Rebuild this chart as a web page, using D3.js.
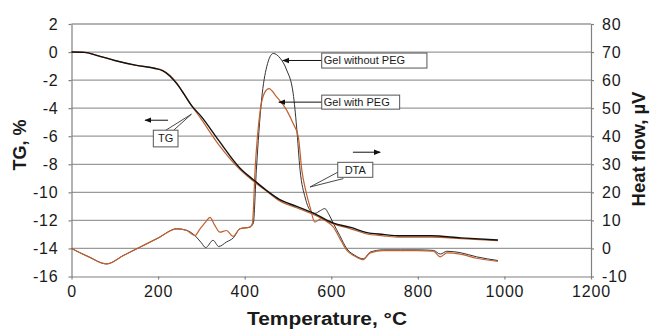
<!DOCTYPE html>
<html>
<head>
<meta charset="utf-8">
<script src="https://cdn.jsdelivr.net/npm/d3@7"></script>
<style>
  body { margin: 0; background: #fff; }
  svg text { font-family: "Liberation Sans", Arial, sans-serif; fill: #1a1a1a; }
</style>
</head>
<body>
<div id="chart"></div>
<script>
// TG curves (left axis, %)
const tgTemp = [0, 30, 60, 100, 150, 193, 210, 227, 243, 260, 277, 300, 340, 390, 420, 450, 480, 520, 560, 605, 645, 680, 720, 760, 830, 900, 985];
const tgNoPeg = [0, -0.02, -0.25, -0.6, -0.95, -1.17, -1.33, -1.7, -2.25, -3.0, -3.8, -4.6, -6.3, -8.3, -9.1, -9.85, -10.5, -11.0, -11.5, -12.2, -12.5, -12.85, -13.0, -13.1, -13.1, -13.25, -13.4];
const tgPeg = [0, -0.02, -0.25, -0.6, -0.95, -1.15, -1.3, -1.65, -2.2, -3.0, -3.8, -4.8, -6.6, -8.4, -9.2, -9.9, -10.6, -11.1, -11.6, -12.25, -12.6, -12.95, -13.1, -13.2, -13.2, -13.3, -13.45];

// DTA curves (right axis, µV)
const dtaTempNoPeg = [0, 40, 81, 120, 160, 200, 243, 265, 285, 300, 310, 327, 340, 358, 374, 389, 412, 420, 427, 439, 451, 466, 482, 497, 512, 520, 528, 540, 551, 562, 575, 585, 595, 605, 620, 636, 655, 674, 690, 720, 760, 800, 836, 852, 867, 898, 936, 985];
const dtaNoPeg = [0, -3, -5.5, -2.5, 0.6, 3.7, 7, 6.5, 4.6, 2, 0.3, 2.9, 0.7, 2.3, 3.8, 7, 7.6, 9, 27.9, 52.9, 64.8, 69.5, 67.8, 63.6, 55.3, 43.3, 27.9, 18, 13.6, 12.5, 13.5, 14.2, 12, 8.9, 4.5, -0.1, -2.5, -3.7, -1.3, -0.5, -0.5, -0.5, -0.7, -2.0, -1.0, -1.5, -3.0, -4.3];
const dtaTempPeg = [0, 40, 81, 120, 160, 200, 243, 265, 285, 297, 310, 320, 330, 343, 358, 373, 389, 412, 418, 424, 436, 447, 456, 474, 497, 512, 524, 532, 542, 551, 562, 577, 590, 605, 620, 636, 655, 674, 690, 720, 760, 800, 836, 852, 867, 898, 936, 985];
const dtaPeg = [0, -3, -5.5, -2.5, 0.6, 3.7, 7, 6.5, 4.6, 7, 9.5, 11.1, 8.5, 5.8, 6.4, 4.3, 7, 7.6, 9, 27.9, 49.3, 55.8, 57, 54, 49.3, 44.5, 39.8, 27.9, 20, 14.8, 9.4, 10.6, 9.5, 7.6, 3.5, -0.7, -2.8, -4.0, -1.6, -0.8, -0.8, -0.8, -1.0, -3.0, -1.6, -2.0, -3.5, -4.6];

// ticks
const xTicks = [0, 200, 400, 600, 800, 1000, 1200];
const yLeftTicks = [2, 0, -2, -4, -6, -8, -10, -12, -14, -16];
const yRightTicks = [80, 70, 60, 50, 40, 30, 20, 10, 0, -10];

const width = 650, height = 332;
const margin = {top: 24, right: 59, bottom: 55.5, left: 71.5};
const innerW = width - margin.left - margin.right;
const innerH = height - margin.top - margin.bottom;

const svg = d3.select('#chart').append('svg')
    .attr('width', width)
    .attr('height', height);
const g = svg.append('g')
    .attr('transform', 'translate(' + margin.left + ',' + margin.top + ')');

const xScale = d3.scaleLinear().domain([0, 1200]).range([0, innerW]);
const yLeft = d3.scaleLinear().domain([-16, 2]).range([innerH, 0]);
const yRight = d3.scaleLinear().domain([-10, 80]).range([innerH, 0]);

// gridlines
g.append('g').selectAll('line')
  .data(yLeftTicks.filter(d => d > -16))
  .enter().append('line')
    .attr('x1', 0).attr('x2', innerW)
    .attr('y1', d => yLeft(d)).attr('y2', d => yLeft(d))
    .style('stroke', '#9a9a9a')
    .style('stroke-width', 1.3);

const fmt = d => String(d);

// axes
const xAxis = g.append('g')
  .attr('transform', 'translate(0,' + innerH + ')')
  .call(d3.axisBottom(xScale).tickValues(xTicks).tickFormat(fmt).tickSize(3).tickPadding(6).tickSizeOuter(0));
const yAxisL = g.append('g')
  .call(d3.axisLeft(yLeft).tickValues(yLeftTicks).tickFormat(fmt).tickSize(3).tickPadding(10).tickSizeOuter(0));
const yAxisR = g.append('g')
  .attr('transform', 'translate(' + innerW + ',0)')
  .call(d3.axisRight(yRight).tickValues(yRightTicks).tickFormat(fmt).tickSize(3).tickPadding(8).tickSizeOuter(0));

[xAxis, yAxisL, yAxisR].forEach(a => {
  a.selectAll('path, line').style('stroke', '#808080').style('stroke-width', 1.2);
  a.selectAll('text').style('font-size', '16px').style('letter-spacing', '0.8px').style('fill', '#1a1a1a');
});

// curves
const tgLine = (temps, vals) => d3.line()
  .x((d, i) => xScale(temps[i]))
  .y(d => yLeft(d))
  .curve(d3.curveMonotoneX)(vals);
const dtaLine = (temps, vals) => d3.line()
  .x((d, i) => xScale(temps[i]))
  .y(d => yRight(d))
  .curve(d3.curveMonotoneX)(vals);

g.append('path').attr('d', dtaLine(dtaTempNoPeg, dtaNoPeg))
  .style('fill', 'none').style('stroke', '#333').style('stroke-width', 1);
g.append('path').attr('d', dtaLine(dtaTempPeg, dtaPeg))
  .style('fill', 'none').style('stroke', '#c2602e').style('stroke-width', 1.2);
g.append('path').attr('d', tgLine(tgTemp, tgPeg))
  .style('fill', 'none').style('stroke', '#c2602e').style('stroke-width', 1.2);
g.append('path').attr('d', tgLine(tgTemp, tgNoPeg))
  .style('fill', 'none').style('stroke', '#111').style('stroke-width', 1.4);

// annotations (temperature, TG units)
svg.append('defs').append('marker')
    .attr('id', 'arr')
    .attr('viewBox', '0 0 10 10')
    .attr('refX', 9).attr('refY', 5)
    .attr('markerWidth', 7).attr('markerHeight', 7)
    .attr('markerUnits', 'userSpaceOnUse')
    .attr('orient', 'auto')
  .append('path')
    .attr('d', 'M0,1L10,5L0,9z')
    .style('fill', '#111');

const arrows = [
  [578, -0.6, 488, -0.6],
  [578, -3.57, 479, -3.57],
  [650, -7.14, 713, -7.14],
  [223, -4.86, 170, -4.86]
];
g.selectAll('.arrow').data(arrows).enter().append('line')
  .attr('class', 'arrow')
  .attr('x1', d => xScale(d[0])).attr('y1', d => yLeft(d[1]))
  .attr('x2', d => xScale(d[2])).attr('y2', d => yLeft(d[3]))
  .style('stroke', '#111').style('stroke-width', 1)
  .attr('marker-end', 'url(#arr)');

// callout wedges: base point a, base point b, tip
const wedges = [
  [616, -8.55, 628, -9.02, 551, -9.62],
  [218, -5.57, 236, -5.57, 277, -4.43]
];
g.selectAll('.wedge').data(wedges).enter().append('path')
  .attr('class', 'wedge')
  .attr('d', d => 'M' + xScale(d[0]) + ',' + yLeft(d[1]) + 'L' + xScale(d[4]) + ',' + yLeft(d[5]) + 'L' + xScale(d[2]) + ',' + yLeft(d[3]))
  .style('fill', 'none').style('stroke', '#333').style('stroke-width', 0.9);

const boxes = [
  {label: 'Gel without PEG', t1: 578, t2: 821, v1: -0.07, v2: -1.14, anchor: 'start'},
  {label: 'Gel with PEG', t1: 578, t2: 758, v1: -3.07, v2: -4.07, anchor: 'start'},
  {label: 'DTA', t1: 615, t2: 696, v1: -7.86, v2: -8.93, anchor: 'middle'},
  {label: 'TG', t1: 189, t2: 246, v1: -5.57, v2: -6.76, anchor: 'middle'}
];
const bx = g.selectAll('.box').data(boxes).enter().append('g').attr('class', 'box');
bx.append('rect')
  .attr('x', d => xScale(d.t1)).attr('y', d => yLeft(d.v1))
  .attr('width', d => xScale(d.t2) - xScale(d.t1))
  .attr('height', d => yLeft(d.v2) - yLeft(d.v1))
  .style('fill', '#fff').style('stroke', '#555').style('stroke-width', 1);
bx.append('text')
  .attr('x', d => d.anchor === 'start' ? xScale(d.t1) + 2 : (xScale(d.t1) + xScale(d.t2)) / 2)
  .attr('y', d => (yLeft(d.v1) + yLeft(d.v2)) / 2)
  .attr('dy', '0.35em')
  .style('text-anchor', d => d.anchor)
  .style('font-size', '11px')
  .text(d => d.label);

// axis titles
svg.append('text')
  .attr('x', 247).attr('y', 325)
  .attr('textLength', 160)
  .attr('lengthAdjust', 'spacingAndGlyphs')
  .style('font-size', '17.5px').style('font-weight', 'bold')
  .text('Temperature, °C');
svg.append('text')
  .attr('transform', 'translate(26,' + 145 + ') rotate(-90)')
  .style('text-anchor', 'middle')
  .style('font-size', '18px').style('font-weight', 'bold')
  .text('TG, %');
svg.append('text')
  .attr('transform', 'translate(645,' + 149 + ') rotate(-90)')
  .style('text-anchor', 'middle')
  .style('font-size', '18.5px').style('font-weight', 'bold')
  .text('Heat flow, µV');
</script>
</body>
</html>
